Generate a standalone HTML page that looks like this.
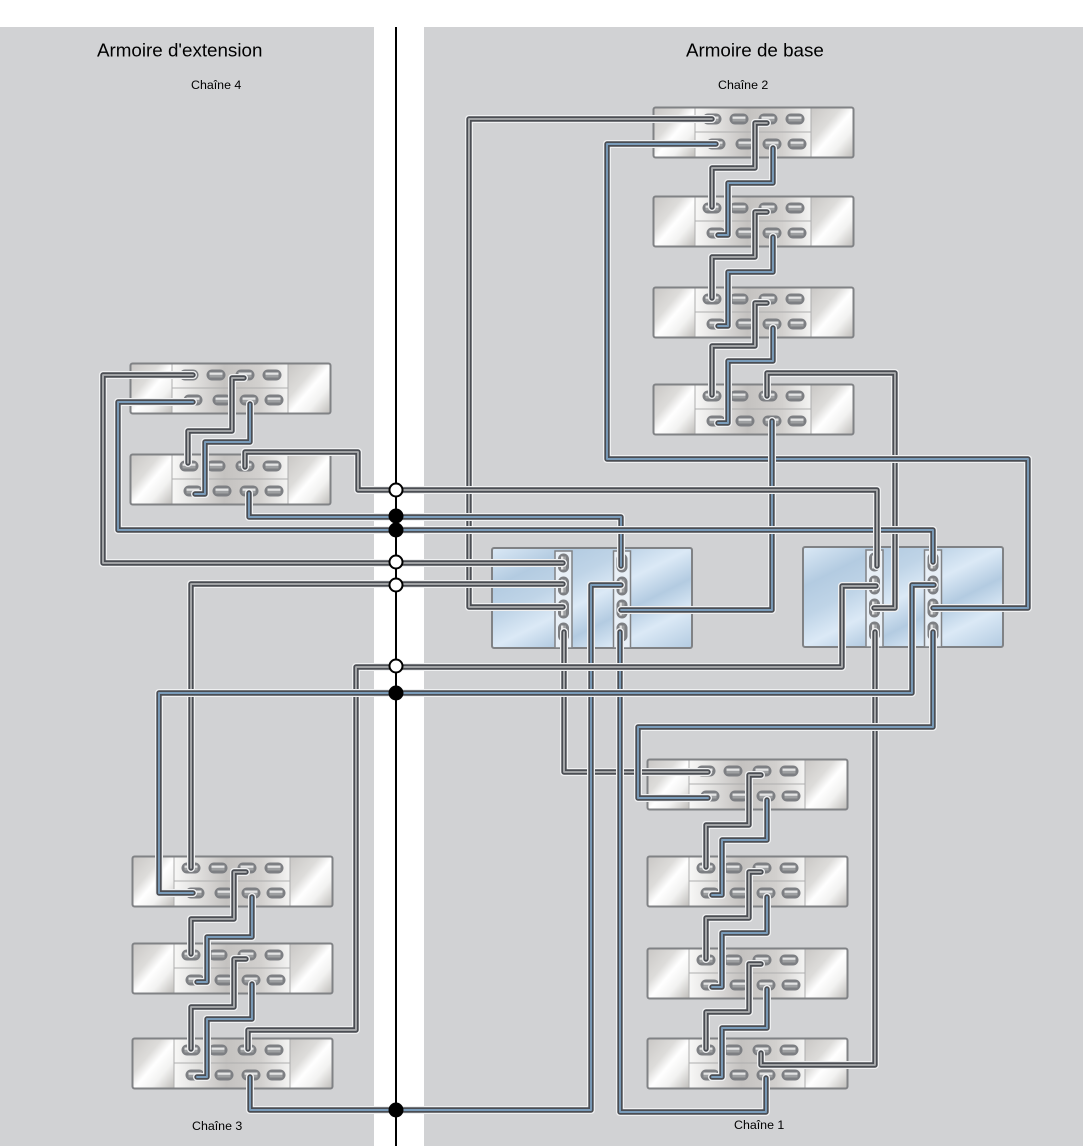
<!DOCTYPE html>
<html><head><meta charset="utf-8"><style>
html,body{margin:0;padding:0;background:#fff}
svg{display:block}
text{font-family:"Liberation Sans",Arial,sans-serif;fill:#000}
.h{fill:none;stroke:#f0f1f2;stroke-width:8;stroke-linecap:round;stroke-linejoin:round}
.d{fill:none;stroke:#4a4d53;stroke-width:5.400;stroke-linecap:round;stroke-linejoin:round}
.g{fill:none;stroke:#acaeb0;stroke-width:1.800;stroke-linecap:round;stroke-linejoin:round}
.b{fill:none;stroke:#7a9cba;stroke-width:1.900;stroke-linecap:round;stroke-linejoin:round}
</style></head><body>
<svg width="1083" height="1148" viewBox="0 0 1083 1148" xmlns="http://www.w3.org/2000/svg">
<defs>
<linearGradient id="sg" x1="0" y1="0" x2="1" y2="1">
<stop offset="0" stop-color="#c9c7c5"/><stop offset=".35" stop-color="#dddcda"/><stop offset=".52" stop-color="#fff"/><stop offset=".72" stop-color="#f2f2f1"/><stop offset="1" stop-color="#bfbdba"/>
</linearGradient>
<linearGradient id="mg" x1="0" y1="0" x2="1" y2="0">
<stop offset="0" stop-color="#f8f8f7"/><stop offset=".45" stop-color="#c4c2c0"/><stop offset=".75" stop-color="#d2d0ce"/><stop offset="1" stop-color="#f4f4f3"/>
</linearGradient>
<linearGradient id="cg" x1="0" y1="0" x2="1" y2="1">
<stop offset="0" stop-color="#dbe9f6"/><stop offset=".2" stop-color="#b3cbe1"/><stop offset=".35" stop-color="#bfd4e7"/><stop offset=".5" stop-color="#dbe9f6"/><stop offset=".65" stop-color="#b3cbe1"/><stop offset=".8" stop-color="#dbe9f6"/><stop offset="1" stop-color="#b3cbe1"/>
</linearGradient>
<g id="ph"><rect x="-9.500" y="-5.500" width="19" height="11" rx="5.500" fill="#7d7f83"/><rect x="-6.500" y="-2.500" width="13" height="2.400" fill="#e4e4e4"/><rect x="-6.500" y="-.1" width="13" height="2.600" fill="#9ea0a2"/></g>
<g id="pv"><rect x="-5.500" y="-9.500" width="11" height="19" rx="5.500" fill="#7d7f83"/><rect x="-2.500" y="-6.500" width="2.400" height="13" fill="#e4e4e4"/><rect x="-.1" y="-6.500" width="2.600" height="13" fill="#9ea0a2"/></g>
<g id="shelf">
<rect x="0.500" y="0.500" width="200" height="50" rx="2" fill="#eee"/>
<rect x="1" y="1" width="41" height="49" fill="url(#sg)"/>
<rect x="158" y="1" width="42" height="49" fill="url(#sg)"/>
<rect x="42" y="1" width="116" height="24" fill="url(#mg)"/>
<rect x="42" y="25" width="116" height="25" fill="url(#mg)"/>
<path d="M42 1V50M158 1V50M42 25H158" fill="none" stroke="#aeaeae" stroke-width="1"/>
<rect x="0.500" y="0.500" width="200" height="50" rx="2" fill="none" stroke="#808285" stroke-width="2"/>
<use href="#ph" x="59" y="12"/><use href="#ph" x="86" y="12"/><use href="#ph" x="115" y="12"/><use href="#ph" x="142" y="12"/>
<use href="#ph" x="63" y="37"/><use href="#ph" x="92" y="37"/><use href="#ph" x="119" y="37"/><use href="#ph" x="144" y="37"/>
</g>
<g id="ctrl">
<rect x="0" y="0" width="200" height="100" rx="2" fill="url(#cg)" stroke="#808285" stroke-width="2"/>
<rect x="63" y="3" width="17" height="97" fill="#e8eff6" stroke="#808285" stroke-width="1.500"/>
<rect x="121.500" y="3" width="17" height="97" fill="#e8eff6" stroke="#808285" stroke-width="1.500"/>
<use href="#pv" x="71.500" y="15"/><use href="#pv" x="71.500" y="38"/><use href="#pv" x="71.500" y="61"/><use href="#pv" x="71.500" y="84"/>
<use href="#pv" x="130" y="15"/><use href="#pv" x="130" y="38"/><use href="#pv" x="130" y="61"/><use href="#pv" x="130" y="84"/>
</g>

<path id="a1" d="M767 123H755V168H712V207"/><path id="a2" d="M773 148V183H728V235H718"/>
<path id="a3" d="M767 212H755V257H712V298"/><path id="a4" d="M773 237V272H728V326H718"/>
<path id="a5" d="M767 303H755V346H712V395"/><path id="a6" d="M773 328V361H728V423H718"/>
<path id="b1" d="M761 775H749V825H706V867"/><path id="b2" d="M767 800V840H722V895H712"/>
<path id="b3" d="M761 872H749V918H706V959"/><path id="b4" d="M767 897V933H722V987H712"/>
<path id="b5" d="M761 964H749V1012H706V1049"/><path id="b6" d="M767 989V1028H722V1077H712"/>
<path id="c1" d="M246 872H234V919H191V954"/><path id="c2" d="M252 897V937H207V982H197"/>
<path id="c3" d="M246 959H234V1007H191V1049"/><path id="c4" d="M252 984V1019H207V1077H197"/>
<path id="e1" d="M244 378H232V431H188V463"/><path id="e2" d="M250 404V442H205V494H195"/>
<path id="L1" d="M712 119H469V607H563"/>
<path id="L2" d="M716 144H607V459H1028V608H933"/>
<path id="L3" d="M767 396V373H895V608H874"/>
<path id="L4" d="M772 421V610H621"/>
<path id="L5" d="M193 375H103V563H563"/>
<path id="L6" d="M193 402H118V530H933V562"/>
<path id="L7" d="M245 467V452H358V490H877V566"/>
<path id="L8" d="M249 493V517H621V566"/>
<path id="L9" d="M191 868V584H563"/>
<path id="L10" d="M193 893H159V693H912V585H934"/>
<path id="L11" d="M248 1049V1030H356V667H842V586H876"/>
<path id="L12" d="M250 1077V1110H591V585H621"/>
<path id="L13" d="M564 632V772H708"/>
<path id="L14" d="M933 632V727H638V798H708"/>
<path id="L15" d="M620 632V1112H766V1078"/>
<path id="L16" d="M875 632V1065H761V1053"/>
</defs>

<rect x="0" y="27" width="374" height="1119" fill="#d1d2d4"/>
<rect x="424" y="27" width="659" height="1119" fill="#d1d2d4"/>

<use href="#shelf" x="653" y="107"/><use href="#shelf" x="653" y="196"/><use href="#shelf" x="653" y="287"/><use href="#shelf" x="653" y="384"/>
<use href="#shelf" x="130" y="363"/><use href="#shelf" x="130" y="454"/>
<use href="#shelf" x="132" y="856"/><use href="#shelf" x="132" y="943"/><use href="#shelf" x="132" y="1038"/>
<use href="#shelf" x="647" y="759"/><use href="#shelf" x="647" y="856"/><use href="#shelf" x="647" y="948"/><use href="#shelf" x="647" y="1038"/>
<use href="#ctrl" x="492" y="548"/><use href="#ctrl" x="803" y="547"/>

<!-- long cables -->
<use href="#L13" class="h"/><use href="#L13" class="d"/><use href="#L13" class="g"/>
<use href="#L16" class="h"/><use href="#L16" class="d"/><use href="#L16" class="g"/>
<use href="#L15" class="h"/><use href="#L15" class="d"/><use href="#L15" class="b"/>
<use href="#L12" class="h"/><use href="#L12" class="d"/><use href="#L12" class="b"/>
<use href="#L1" class="h"/><use href="#L1" class="d"/><use href="#L1" class="g"/>
<use href="#L3" class="h"/><use href="#L3" class="d"/><use href="#L3" class="g"/>
<use href="#L2" class="h"/><use href="#L2" class="d"/><use href="#L2" class="b"/>
<use href="#L4" class="h"/><use href="#L4" class="d"/><use href="#L4" class="b"/>
<use href="#L8" class="h"/><use href="#L8" class="d"/><use href="#L8" class="b"/>
<use href="#L6" class="h"/><use href="#L6" class="d"/><use href="#L6" class="b"/>
<use href="#L7" class="h"/><use href="#L7" class="d"/><use href="#L7" class="g"/>
<use href="#L5" class="h"/><use href="#L5" class="d"/><use href="#L5" class="g"/>
<use href="#L9" class="h"/><use href="#L9" class="d"/><use href="#L9" class="g"/>
<use href="#L11" class="h"/><use href="#L11" class="d"/><use href="#L11" class="g"/>
<use href="#L10" class="h"/><use href="#L10" class="d"/><use href="#L10" class="b"/>
<use href="#L14" class="h"/><use href="#L14" class="d"/><use href="#L14" class="b"/>

<!-- chain cables -->
<use href="#a1" class="h"/><use href="#a1" class="d"/><use href="#a1" class="g"/>
<use href="#a2" class="h"/><use href="#a2" class="d"/><use href="#a2" class="b"/>
<use href="#a3" class="h"/><use href="#a3" class="d"/><use href="#a3" class="g"/>
<use href="#a4" class="h"/><use href="#a4" class="d"/><use href="#a4" class="b"/>
<use href="#a5" class="h"/><use href="#a5" class="d"/><use href="#a5" class="g"/>
<use href="#a6" class="h"/><use href="#a6" class="d"/><use href="#a6" class="b"/>
<use href="#b1" class="h"/><use href="#b1" class="d"/><use href="#b1" class="g"/>
<use href="#b2" class="h"/><use href="#b2" class="d"/><use href="#b2" class="b"/>
<use href="#b3" class="h"/><use href="#b3" class="d"/><use href="#b3" class="g"/>
<use href="#b4" class="h"/><use href="#b4" class="d"/><use href="#b4" class="b"/>
<use href="#b5" class="h"/><use href="#b5" class="d"/><use href="#b5" class="g"/>
<use href="#b6" class="h"/><use href="#b6" class="d"/><use href="#b6" class="b"/>
<use href="#c1" class="h"/><use href="#c1" class="d"/><use href="#c1" class="g"/>
<use href="#c2" class="h"/><use href="#c2" class="d"/><use href="#c2" class="b"/>
<use href="#c3" class="h"/><use href="#c3" class="d"/><use href="#c3" class="g"/>
<use href="#c4" class="h"/><use href="#c4" class="d"/><use href="#c4" class="b"/>
<use href="#e1" class="h"/><use href="#e1" class="d"/><use href="#e1" class="g"/>
<use href="#e2" class="h"/><use href="#e2" class="d"/><use href="#e2" class="b"/>

<line x1="396" y1="27" x2="396" y2="1146" stroke="#000" stroke-width="2"/>
<g stroke="#000" stroke-width="2">
<circle cx="396" cy="490" r="6.500" fill="#fff"/>
<circle cx="396" cy="516" r="6.500" fill="#000"/>
<circle cx="396" cy="530" r="6.500" fill="#000"/>
<circle cx="396" cy="562" r="6.500" fill="#fff"/>
<circle cx="396" cy="585" r="6.500" fill="#fff"/>
<circle cx="396" cy="666" r="6.500" fill="#fff"/>
<circle cx="396" cy="693" r="6.500" fill="#000"/>
<circle cx="396" cy="1110" r="6.500" fill="#000"/>
</g>

<text x="97" y="56.500" font-size="18.800">Armoire d'extension</text>
<text x="686" y="56.500" font-size="18.800">Armoire de base</text>
<text x="191" y="89" font-size="12.400">Chaîne 4</text>
<text x="718" y="89" font-size="12.400">Chaîne 2</text>
<text x="192" y="1130" font-size="12.400">Chaîne 3</text>
<text x="734" y="1129" font-size="12.400">Chaîne 1</text>
</svg>
</body></html>
